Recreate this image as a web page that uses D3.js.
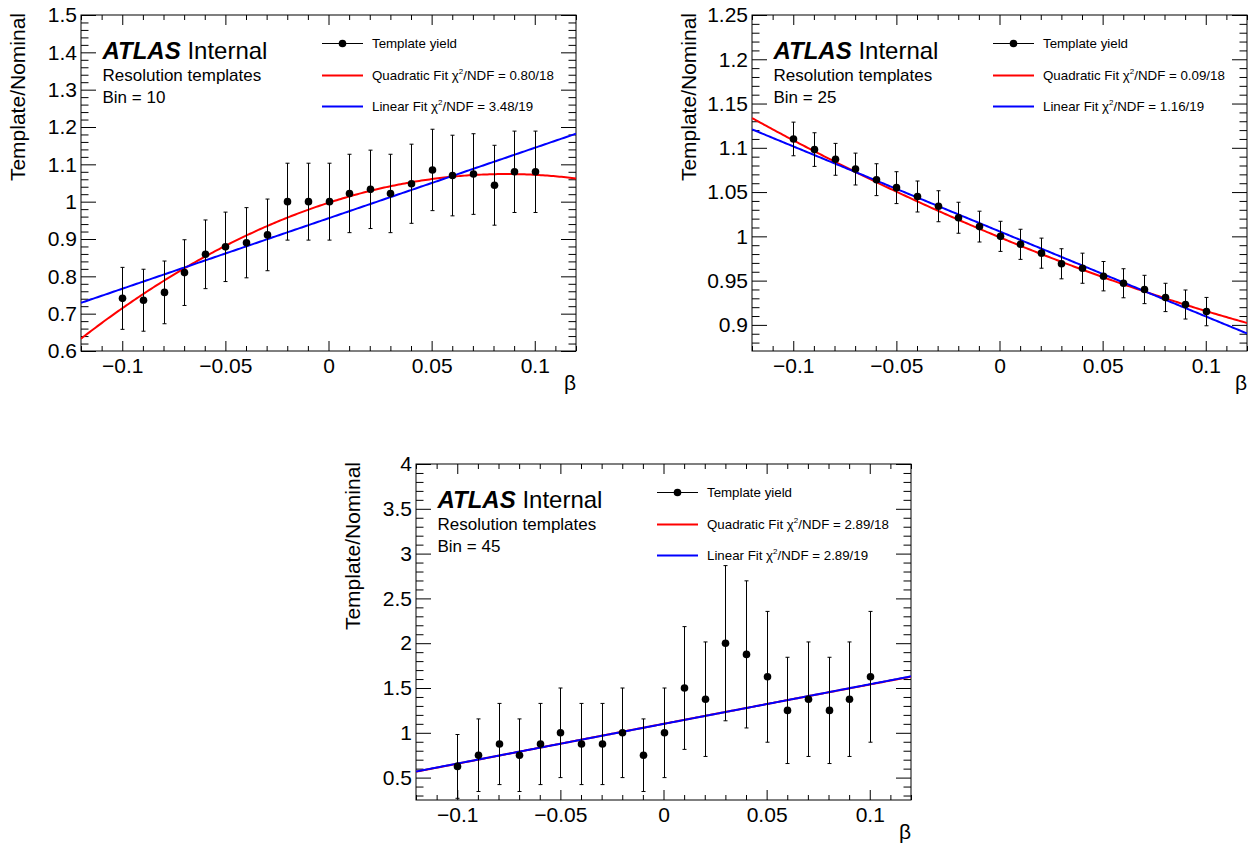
<!DOCTYPE html>
<html>
<head>
<meta charset="utf-8">
<script src="https://cdn.jsdelivr.net/npm/d3@7/dist/d3.min.js"></script>
<style>
  html, body { margin: 0; padding: 0; background: #fff; }
  svg { display: block; font-family: "Liberation Sans", Arial, Helvetica, sans-serif; }
</style>
</head>
<body>
<svg id="chart" width="1255" height="851"></svg>
<script>
// ---------------- data ----------------
const betaValues = [-0.10, -0.09, -0.08, -0.07, -0.06, -0.05, -0.04, -0.03, -0.02, -0.01,
                    0.00, 0.01, 0.02, 0.03, 0.04, 0.05, 0.06, 0.07, 0.08, 0.09, 0.10];

const xMajorTicks = [-0.1, -0.05, 0, 0.05, 0.1];
const xTickLabels = ["\u22120.1", "\u22120.05", "0", "0.05", "0.1"];

// Bin = 10
const bin10Ratio = [0.741, 0.736, 0.757, 0.810, 0.859, 0.879, 0.890, 0.911, 1.000, 1.000,
                    1.000, 1.022, 1.033, 1.022, 1.048, 1.085, 1.070, 1.074, 1.044, 1.080, 1.080];
const bin10Err   = [0.083, 0.083, 0.084, 0.088, 0.092, 0.093, 0.094, 0.096, 0.103, 0.103,
                    0.103, 0.105, 0.105, 0.105, 0.106, 0.109, 0.108, 0.108, 0.107, 0.109, 0.109];
const bin10QuadFit = [0.997, 1.7875, -10.38];   // a + b x + c x^2
const bin10LinFit  = [0.9555, 1.8875];          // a + b x
const bin10YTicks  = [0.6, 0.7, 0.8, 0.9, 1.0, 1.1, 1.2, 1.3, 1.4, 1.5];
const bin10YLabels = ["0.6", "0.7", "0.8", "0.9", "1", "1.1", "1.2", "1.3", "1.4", "1.5"];
const bin10Legend  = ["Template yield", "Quadratic Fit", "0.80/18", "Linear Fit", "3.48/19"];

// Bin = 25
const bin25Ratio = [1.110, 1.098, 1.087, 1.076, 1.064, 1.055, 1.045, 1.034, 1.021, 1.011,
                    1.000, 0.991, 0.981, 0.969, 0.964, 0.955, 0.947, 0.940, 0.931, 0.923, 0.915];
const bin25Err   = [0.019, 0.019, 0.018, 0.018, 0.018, 0.018, 0.0175, 0.0175, 0.0175, 0.0174,
                    0.017, 0.017, 0.017, 0.017, 0.017, 0.0166, 0.0164, 0.016, 0.016, 0.0164, 0.016];
const bin25QuadFit = [0.999, -0.964, 1.31];
const bin25LinFit  = [1.0056, -0.9604];
const bin25YTicks  = [0.9, 0.95, 1.0, 1.05, 1.1, 1.15, 1.2, 1.25];
const bin25YLabels = ["0.9", "0.95", "1", "1.05", "1.1", "1.15", "1.2", "1.25"];
const bin25Legend  = ["Template yield", "Quadratic Fit", "0.09/18", "Linear Fit", "1.16/19"];

// Bin = 45
const bin45Ratio = [0.625, 0.750, 0.875, 0.750, 0.875, 1.000, 0.875, 0.875, 1.000, 0.750,
                    1.000, 1.500, 1.375, 2.000, 1.875, 1.625, 1.250, 1.375, 1.250, 1.375, 1.625];
const bin45Err   = [0.356, 0.405, 0.453, 0.405, 0.453, 0.500, 0.453, 0.453, 0.500, 0.405,
                    0.500, 0.685, 0.639, 0.866, 0.821, 0.730, 0.593, 0.639, 0.593, 0.639, 0.730];
const bin45QuadFit = [1.100, 4.42, -0.30];
const bin45LinFit  = [1.099, 4.425];
const bin45YTicks  = [0.5, 1.0, 1.5, 2.0, 2.5, 3.0, 3.5, 4.0];
const bin45YLabels = ["0.5", "1", "1.5", "2", "2.5", "3", "3.5", "4"];
const bin45Legend  = ["Template yield", "Quadratic Fit", "2.89/18", "Linear Fit", "2.89/19"];

// ---------------- drawing ----------------
const svg = d3.select("#chart");
const W = 495, H = 336;
const FONT = "\"Liberation Sans\", Arial, Helvetica, sans-serif";
const AXFONT = 21;

const panels = [
  { left: 81,  top: 15,  bin: "10", ratio: bin10Ratio, err: bin10Err, quad: bin10QuadFit, lin: bin10LinFit,
    yDomain: [0.6, 1.5], yTicks: bin10YTicks, yLabels: bin10YLabels, yMinorStep: 0.02, legend: bin10Legend },
  { left: 752, top: 15,  bin: "25", ratio: bin25Ratio, err: bin25Err, quad: bin25QuadFit, lin: bin25LinFit,
    yDomain: [0.8705, 1.25], yTicks: bin25YTicks, yLabels: bin25YLabels, yMinorStep: 0.01, legend: bin25Legend },
  { left: 416, top: 464, bin: "45", ratio: bin45Ratio, err: bin45Err, quad: bin45QuadFit, lin: bin45LinFit,
    yDomain: [0.25, 4.0], yTicks: bin45YTicks, yLabels: bin45YLabels, yMinorStep: 0.1, legend: bin45Legend }
];

function minorTicks(domain, step, majors) {
  const out = [];
  const start = Math.ceil(domain[0] / step - 1e-6);
  const end = Math.floor(domain[1] / step + 1e-6);
  for (let k = start; k <= end; k++) {
    const v = +(k * step).toFixed(6);
    if (!majors.some(m => Math.abs(m - v) < step * 0.01)) out.push(v);
  }
  return out;
}

panels.forEach((p, pi) => {
  const g = svg.append("g").attr("transform", `translate(${p.left},${p.top})`);
  const x = d3.scaleLinear().domain([-0.12, 0.12]).range([0, W]);
  const y = d3.scaleLinear().domain(p.yDomain).range([H, 0]);

  const clipId = "clip" + pi;
  g.append("clipPath").attr("id", clipId).append("rect").attr("width", W).attr("height", H);

  const xMinor = minorTicks([-0.12, 0.12], 0.01, xMajorTicks);
  const yMinor = minorTicks(p.yDomain, p.yMinorStep, p.yTicks);

  const styleAxis = sel => {
    sel.select(".domain").remove();
    sel.selectAll("line").attr("stroke", "#000").attr("stroke-width", 1);
    sel.selectAll("text").attr("font-family", FONT).attr("font-size", AXFONT).attr("fill", "#000");
  };

  // bottom axis
  g.append("g").attr("transform", `translate(0,${H})`)
    .call(d3.axisBottom(x).tickValues(xMajorTicks).tickSize(-10).tickPadding(7)
      .tickFormat((d, i) => xTickLabels[i]))
    .call(styleAxis);
  g.append("g").attr("transform", `translate(0,${H})`)
    .call(d3.axisBottom(x).tickValues(xMinor).tickSize(-5).tickFormat(""))
    .call(styleAxis);
  // top axis
  g.append("g")
    .call(d3.axisTop(x).tickValues(xMajorTicks).tickSize(-10).tickFormat(""))
    .call(styleAxis);
  g.append("g")
    .call(d3.axisTop(x).tickValues(xMinor).tickSize(-5).tickFormat(""))
    .call(styleAxis);
  // left axis
  g.append("g")
    .call(d3.axisLeft(y).tickValues(p.yTicks).tickSize(-15).tickPadding(4)
      .tickFormat((d, i) => p.yLabels[i]))
    .call(styleAxis);
  g.append("g")
    .call(d3.axisLeft(y).tickValues(yMinor).tickSize(-7.5).tickFormat(""))
    .call(styleAxis);
  // right axis
  g.append("g").attr("transform", `translate(${W},0)`)
    .call(d3.axisRight(y).tickValues(p.yTicks).tickSize(-15).tickFormat(""))
    .call(styleAxis);
  g.append("g").attr("transform", `translate(${W},0)`)
    .call(d3.axisRight(y).tickValues(yMinor).tickSize(-7.5).tickFormat(""))
    .call(styleAxis);

  // frame
  g.append("rect").attr("x", 0).attr("y", 0).attr("width", W).attr("height", H)
    .attr("fill", "none").attr("stroke", "#000").attr("stroke-width", 1);

  // axis titles
  g.append("text")
    .attr("transform", `translate(-56,-2) rotate(-90)`)
    .attr("text-anchor", "end")
    .attr("font-family", FONT).attr("font-size", AXFONT)
    .text("Template/Nominal");
  g.append("text")
    .attr("x", W).attr("y", H + 39)
    .attr("text-anchor", "end")
    .attr("font-family", FONT).attr("font-size", AXFONT)
    .text("\u03B2");

  // fit curves
  const plot = g.append("g").attr("clip-path", `url(#${clipId})`);
  const xs = d3.range(0, 241).map(i => -0.12 + i * 0.001);
  const quadF = v => p.quad[0] + p.quad[1] * v + p.quad[2] * v * v;
  const linF = v => p.lin[0] + p.lin[1] * v;
  const line = f => d3.line().x(d => x(d)).y(d => y(f(d)));

  plot.append("path").datum(xs).attr("d", line(quadF))
    .attr("fill", "none").attr("stroke", "#ff0000").attr("stroke-width", 2);
  plot.append("path").datum(xs).attr("d", line(linF))
    .attr("fill", "none").attr("stroke", "#0000ff").attr("stroke-width", 2);

  // error bars and points
  const pts = betaValues.map((b, i) => ({ b, v: p.ratio[i], e: p.err[i] }));
  const eb = plot.append("g").attr("stroke", "#000").attr("stroke-width", 1);
  pts.forEach(d => {
    const cx = Math.round(x(d.b)) + 0.5;
    const y1 = y(d.v + d.e), y2 = y(d.v - d.e);
    eb.append("line").attr("x1", cx).attr("x2", cx).attr("y1", y1).attr("y2", y2);
    eb.append("line").attr("x1", cx - 2).attr("x2", cx + 2).attr("y1", y1).attr("y2", y1);
    eb.append("line").attr("x1", cx - 2).attr("x2", cx + 2).attr("y1", y2).attr("y2", y2);
  });
  plot.append("g").selectAll("circle").data(pts).join("circle")
    .attr("cx", d => Math.round(x(d.b)) + 0.5).attr("cy", d => y(d.v))
    .attr("r", 3.8).attr("fill", "#000");

  // ATLAS label
  const t = g.append("text").attr("x", 21.5).attr("y", 44)
    .attr("font-family", FONT).attr("font-size", 24);
  t.append("tspan").attr("font-weight", "bold").attr("font-style", "italic").text("ATLAS");
  t.append("tspan").text(" Internal");
  g.append("text").attr("x", 21.5).attr("y", 66).attr("font-family", FONT).attr("font-size", 17)
    .text("Resolution templates");
  g.append("text").attr("x", 21.5).attr("y", 88).attr("font-family", FONT).attr("font-size", 17)
    .text("Bin = " + p.bin);

  // legend
  const lx0 = 241, lx1 = 282, tx = 291;
  const ly = [28.5, 60.5, 91.5];
  const lg = g.append("g");
  lg.append("line").attr("x1", lx0).attr("x2", lx1).attr("y1", ly[0]).attr("y2", ly[0])
    .attr("stroke", "#000").attr("stroke-width", 1);
  lg.append("circle").attr("cx", (lx0 + lx1) / 2).attr("cy", ly[0]).attr("r", 3.8).attr("fill", "#000");
  lg.append("line").attr("x1", lx0).attr("x2", lx1).attr("y1", ly[1]).attr("y2", ly[1])
    .attr("stroke", "#ff0000").attr("stroke-width", 2);
  lg.append("line").attr("x1", lx0).attr("x2", lx1).attr("y1", ly[2]).attr("y2", ly[2])
    .attr("stroke", "#0000ff").attr("stroke-width", 2);

  const legText = (yy, name, val) => {
    const tt = lg.append("text").attr("x", tx).attr("y", yy + 4.5)
      .attr("font-family", FONT).attr("font-size", 13.3);
    if (val === undefined) { tt.text(name); return; }
    tt.append("tspan").text(name + " \u03C7");
    tt.append("tspan").attr("font-size", 8).attr("dy", -6).text("2");
    tt.append("tspan").attr("dy", 6).text("/NDF = " + val);
  };
  legText(ly[0], p.legend[0]);
  legText(ly[1], p.legend[1], p.legend[2]);
  legText(ly[2], p.legend[3], p.legend[4]);
});
</script>
</body>
</html>
